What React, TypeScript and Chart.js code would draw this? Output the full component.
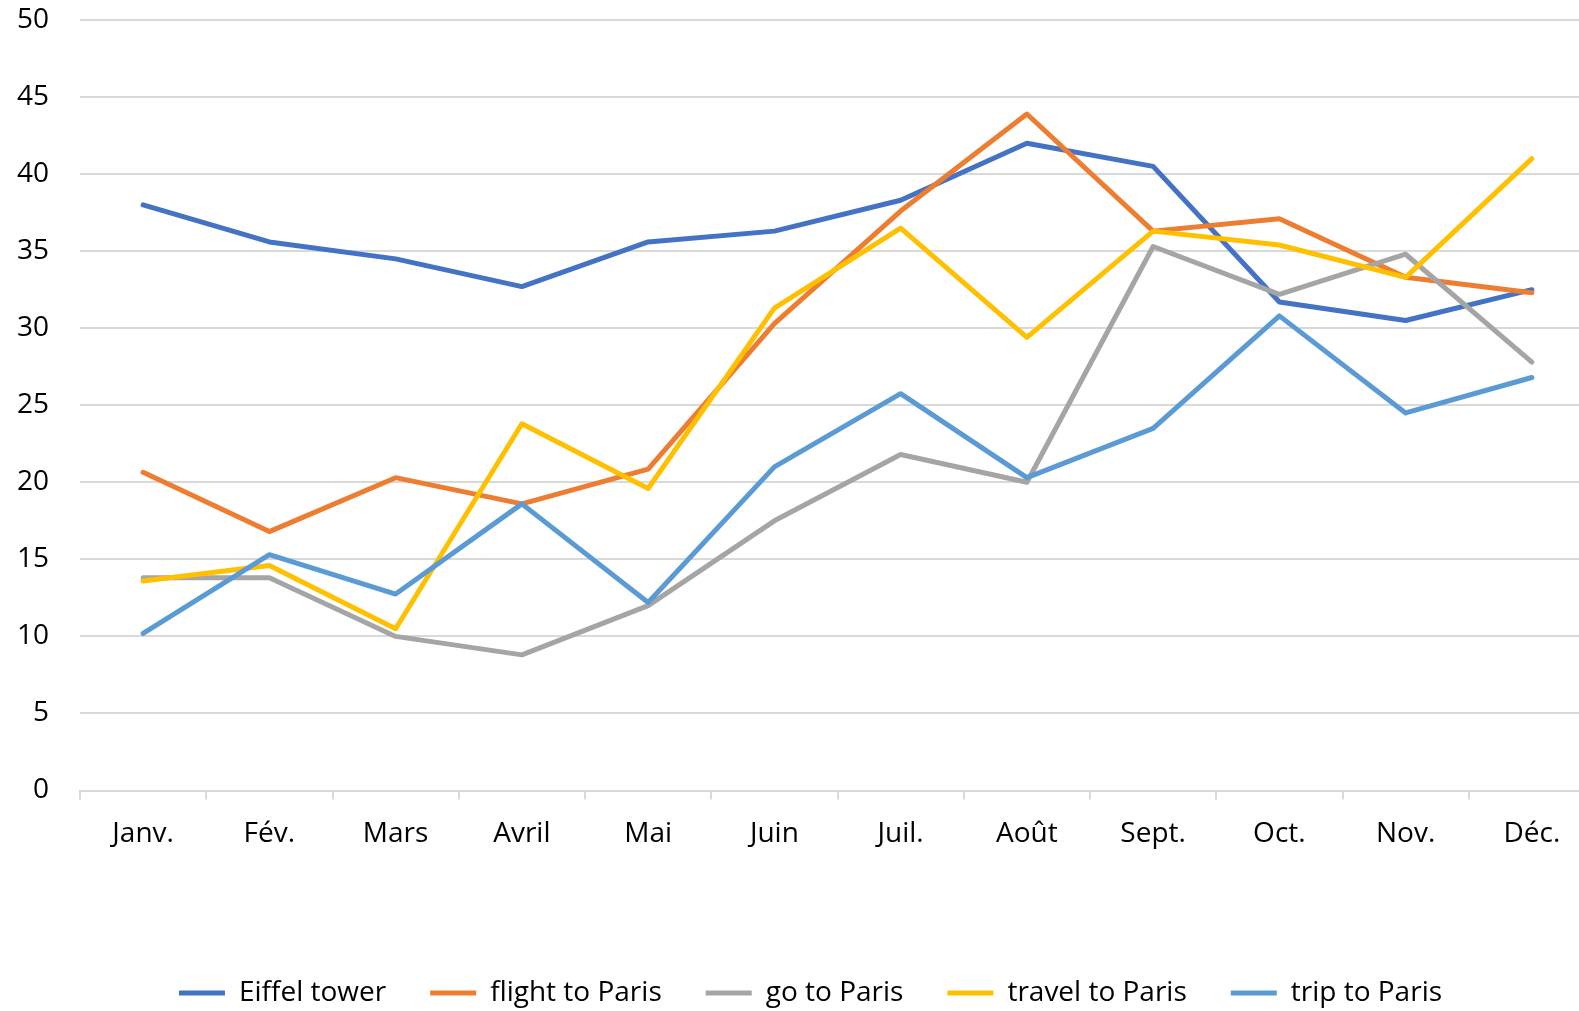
import React, { useEffect, useRef } from "react";
import { Chart, registerables } from "chart.js";

Chart.register(...registerables);

const months = ["Janv.", "Fév.", "Mars", "Avril", "Mai", "Juin", "Juil.", "Août", "Sept.", "Oct.", "Nov.", "Déc."];

const eiffelTower = [38.0, 35.6, 34.5, 32.7, 35.6, 36.3, 38.3, 42.0, 40.5, 31.7, 30.5, 32.5];
const flightToParis = [20.65, 16.8, 20.3, 18.6, 20.85, 30.3, 37.6, 43.9, 36.3, 37.1, 33.3, 32.3];
const goToParis = [13.8, 13.8, 10.0, 8.8, 12.0, 17.5, 21.8, 20.0, 35.3, 32.2, 34.8, 27.8];
const travelToParis = [13.6, 14.6, 10.5, 23.8, 19.6, 31.3, 36.5, 29.4, 36.3, 35.4, 33.3, 41.0];
const tripToParis = [10.2, 15.3, 12.75, 18.6, 12.2, 21.0, 25.75, 20.3, 23.5, 30.8, 24.5, 26.8];

const seriesNames = ["Eiffel tower", "flight to Paris", "go to Paris", "travel to Paris", "trip to Paris"];
const seriesValues = [eiffelTower, flightToParis, goToParis, travelToParis, tripToParis];
const seriesColors = ["#4472C4", "#ED7D31", "#A5A5A5", "#FFC000", "#5B9BD5"];

const yMin = 0;
const yMax = 50;
const yStep = 5;

const shiftLegend = {
  id: "shiftLegend",
  afterLayout(chart: any) {
    if (chart.legend) chart.legend.left += 26;
  },
};

export default function App() {
  const ref = useRef<HTMLCanvasElement | null>(null);

  useEffect(() => {
    if (!ref.current) return;
    const font = { family: "'Open Sans', sans-serif", size: 28 };
    const chart = new Chart(ref.current, {
      type: "line",
      data: {
        labels: months,
        datasets: seriesNames.map((name, i) => ({
          label: name,
          data: seriesValues[i],
          borderColor: seriesColors[i],
          backgroundColor: seriesColors[i],
          borderWidth: 5,
          pointRadius: 0,
          pointHoverRadius: 0,
          tension: 0,
          fill: false,
          borderCapStyle: "round",
          borderJoinStyle: "round",
          pointStyle: "line",
          order: seriesNames.length - i,
        })),
      },
      options: {
        responsive: false,
        animation: false,
        layout: { padding: { top: 20, left: 0, right: 1, bottom: 0 } },
        plugins: {
          tooltip: { enabled: false },
          legend: {
            position: "bottom",
            labels: {
              font,
              color: "#000",
              usePointStyle: true,
              pointStyle: "line",
              pointStyleWidth: 46,
              boxHeight: 28,
              padding: 44,
              sort: (a: any, b: any) => a.datasetIndex - b.datasetIndex,
            },
          },
        },
        scales: {
          x: {
            type: "category",
            offset: true,
            grid: {
              offset: true,
              drawOnChartArea: false,
              drawTicks: true,
              tickLength: 9,
              color: "#D9D9D9",
              lineWidth: 2,
            },
            border: { display: true, color: "#D9D9D9", width: 2 },
            ticks: { font, color: "#000", padding: 18, maxRotation: 0, autoSkip: false },
            afterFit: (scale: any) => {
              scale.height = 144.5;
            },
          },
          y: {
            min: yMin,
            max: yMax,
            grid: { color: "#D9D9D9", lineWidth: 2, drawTicks: false },
            border: { display: false },
            ticks: { stepSize: yStep, font, color: "#000", padding: 31 },
            afterFit: (scale: any) => {
              scale.width = 80;
              scale.paddingTop = 0;
              scale.paddingBottom = 0;
            },
          },
        },
      },
      plugins: [shiftLegend],
    });
    return () => chart.destroy();
  }, []);

  return (
    <div
      style={{
        position: "fixed",
        left: 0,
        top: 0,
        width: 1579,
        height: 1011,
        overflow: "hidden",
        background: "#fff",
      }}
    >
      <canvas ref={ref} width={1596} height={1017} />
    </div>
  );
}
